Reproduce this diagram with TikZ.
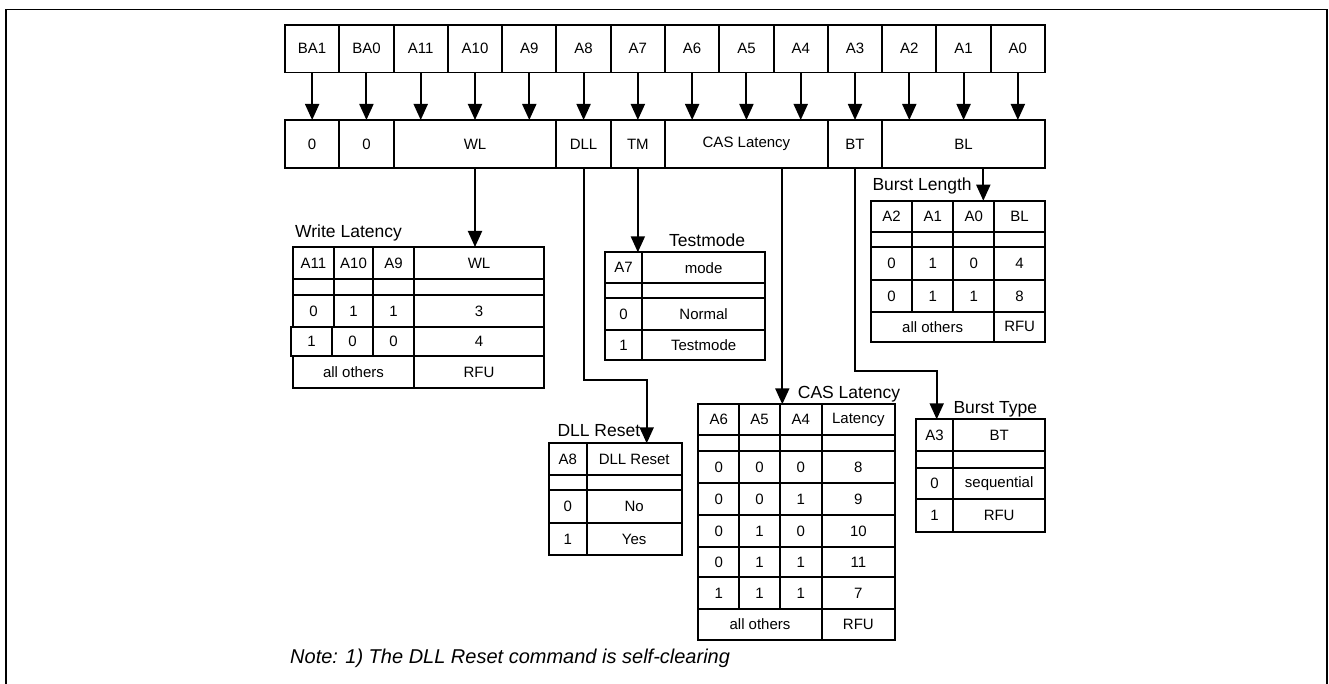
\documentclass[tikz,border=0pt]{standalone}
\usepackage{fontspec}
\setmainfont{Liberation Sans}
\usetikzlibrary{arrows.meta,calc}
\tikzset{
  ln/.style={line width=1.9pt},
  cellst/.style={draw, ln, inner sep=0pt, outer sep=0pt, anchor=north west, font=\fontsize{15}{18}\selectfont},
  ttl/.style={anchor=base west, inner sep=0pt, font=\fontsize{17.5}{20}\selectfont},
  arr/.style={ln, -{Triangle[length=16pt,width=14pt]}},
  notest/.style={anchor=base west, inner sep=0pt, font=\itshape\fontsize{20}{24}\selectfont}
}
\newcommand{\cellbox}[6]{%
  \pgfmathsetmacro\cw{#4-(#2)}\pgfmathsetmacro\ch{#5-(#3)}%
  \node[cellst, minimum width=\cw pt, minimum height=\ch pt] (#1) at (#2,#3) {#6};}
\begin{document}
\begin{tikzpicture}[x=1pt,y=-1pt]
\useasboundingbox (0,0) rectangle (1329,684);
% frame
\draw[line width=1.6pt] (6,684) -- (6,9.5) -- (1327,9.5) -- (1327,684);
% top row
\foreach \lab [count=\i from 0] in {BA1,BA0,A11,A10,A9,A8,A7,A6,A5,A4,A3,A2,A1,A0}{
  \pgfmathsetmacro\xa{285+\i*54.2857}
  \pgfmathsetmacro\xb{285+(\i+1)*54.2857}
  \cellbox{t\i}{\xa}{25}{\xb}{72.5}{\lab}
}
% second row
\cellbox{z1}{285}{120}{339.29}{168}{0}
\cellbox{z2}{339.29}{120}{393.57}{168}{0}
\cellbox{wl}{393.57}{120}{556.43}{168}{WL}
\cellbox{dll}{556.43}{120}{610.71}{168}{DLL}
\cellbox{tm}{610.71}{120}{665}{168}{TM}
\cellbox{cas}{665}{120}{827.86}{168}{CAS Latency}
\cellbox{bt}{827.86}{120}{882.14}{168}{BT}
\cellbox{bl}{882.14}{120}{1045}{168}{BL}
\foreach \i in {0,...,13}{
  \draw[arr] (t\i.south) -- (t\i.south |- z1.north);
}
% Write Latency
\node[ttl] (wlttl) at (295,238) {Write Latency};
\cellbox{w11}{293}{247}{334}{279}{A11}
\cellbox{w12}{334}{247}{373}{279}{A10}
\cellbox{w13}{373}{247}{414}{279}{A9}
\cellbox{w14}{414}{247}{544}{279}{WL}
\cellbox{w21}{293}{279}{334}{295}{}
\cellbox{w22}{334}{279}{373}{295}{}
\cellbox{w23}{373}{279}{414}{295}{}
\cellbox{w24}{414}{279}{544}{295}{}
\cellbox{w31}{293}{295}{334}{327}{0}
\cellbox{w32}{334}{295}{373}{327}{1}
\cellbox{w33}{373}{295}{414}{327}{1}
\cellbox{w34}{414}{295}{544}{327}{3}
\cellbox{w41}{291}{327}{332}{356}{1}
\cellbox{w42}{332}{327}{373}{356}{0}
\cellbox{w43}{373}{327}{414}{356}{0}
\cellbox{w44}{414}{327}{544}{356}{4}
\cellbox{w51}{293}{356}{414}{388}{all others}
\cellbox{w52}{414}{356}{544}{388}{RFU}
% Testmode
\node[ttl] (tmttl) at (669,246.7) {Testmode};
\cellbox{m11}{605}{252.3}{642.3}{283.3}{A7}
\cellbox{m12}{642.3}{252.3}{765}{283.3}{mode}
\cellbox{m21}{605}{283.3}{642.3}{298.3}{}
\cellbox{m22}{642.3}{283.3}{765}{298.3}{}
\cellbox{m31}{605}{298.3}{642.3}{330}{0}
\cellbox{m32}{642.3}{298.3}{765}{330}{Normal}
\cellbox{m41}{605}{330}{642.3}{360}{1}
\cellbox{m42}{642.3}{330}{765}{360}{Testmode}
% DLL Reset
\node[ttl] (dllttl) at (557.3,436.7) {DLL Reset};
\cellbox{d11}{549}{443.3}{586.7}{475}{A8}
\cellbox{d12}{586.7}{443.3}{681.7}{475}{DLL Reset}
\cellbox{d21}{549}{475}{586.7}{490}{}
\cellbox{d22}{586.7}{475}{681.7}{490}{}
\cellbox{d31}{549}{490}{586.7}{523.3}{0}
\cellbox{d32}{586.7}{490}{681.7}{523.3}{No}
\cellbox{d41}{549}{523.3}{586.7}{555}{1}
\cellbox{d42}{586.7}{523.3}{681.7}{555}{Yes}
% CAS Latency
\node[ttl] (casttl) at (797.7,398.3) {CAS Latency};
\cellbox{c11}{698.3}{404.3}{739.3}{435}{A6}
\cellbox{c12}{739.3}{404.3}{780}{435}{A5}
\cellbox{c13}{780}{404.3}{821.7}{435}{A4}
\cellbox{c14}{821.7}{404.3}{895}{435}{Latency}
\cellbox{c21}{698.3}{435}{739.3}{451}{}
\cellbox{c22}{739.3}{435}{780}{451}{}
\cellbox{c23}{780}{435}{821.7}{451}{}
\cellbox{c24}{821.7}{435}{895}{451}{}
\cellbox{c31}{698.3}{451}{739.3}{483.3}{0}
\cellbox{c32}{739.3}{451}{780}{483.3}{0}
\cellbox{c33}{780}{451}{821.7}{483.3}{0}
\cellbox{c34}{821.7}{451}{895}{483.3}{8}
\cellbox{c41}{698.3}{483.3}{739.3}{515}{0}
\cellbox{c42}{739.3}{483.3}{780}{515}{0}
\cellbox{c43}{780}{483.3}{821.7}{515}{1}
\cellbox{c44}{821.7}{483.3}{895}{515}{9}
\cellbox{c51}{698.3}{515}{739.3}{546.7}{0}
\cellbox{c52}{739.3}{515}{780}{546.7}{1}
\cellbox{c53}{780}{515}{821.7}{546.7}{0}
\cellbox{c54}{821.7}{515}{895}{546.7}{10}
\cellbox{c61}{698.3}{546.7}{739.3}{577.3}{0}
\cellbox{c62}{739.3}{546.7}{780}{577.3}{1}
\cellbox{c63}{780}{546.7}{821.7}{577.3}{1}
\cellbox{c64}{821.7}{546.7}{895}{577.3}{11}
\cellbox{c71}{698.3}{577.3}{739.3}{609}{1}
\cellbox{c72}{739.3}{577.3}{780}{609}{1}
\cellbox{c73}{780}{577.3}{821.7}{609}{1}
\cellbox{c74}{821.7}{577.3}{895}{609}{7}
\cellbox{c81}{698.3}{609}{821.7}{640}{all others}
\cellbox{c82}{821.7}{609}{895}{640}{RFU}
% Burst Length
\node[ttl] (blttl) at (872.3,190.7) {Burst Length};
\cellbox{b11}{871}{200.7}{912.3}{231.7}{A2}
\cellbox{b12}{912.3}{200.7}{953.3}{231.7}{A1}
\cellbox{b13}{953.3}{200.7}{994.3}{231.7}{A0}
\cellbox{b14}{994.3}{200.7}{1045}{231.7}{BL}
\cellbox{b21}{871}{231.7}{912.3}{247.3}{}
\cellbox{b22}{912.3}{231.7}{953.3}{247.3}{}
\cellbox{b23}{953.3}{231.7}{994.3}{247.3}{}
\cellbox{b24}{994.3}{231.7}{1045}{247.3}{}
\cellbox{b31}{871}{247.3}{912.3}{280}{0}
\cellbox{b32}{912.3}{247.3}{953.3}{280}{1}
\cellbox{b33}{953.3}{247.3}{994.3}{280}{0}
\cellbox{b34}{994.3}{247.3}{1045}{280}{4}
\cellbox{b41}{871}{280}{912.3}{311.7}{0}
\cellbox{b42}{912.3}{280}{953.3}{311.7}{1}
\cellbox{b43}{953.3}{280}{994.3}{311.7}{1}
\cellbox{b44}{994.3}{280}{1045}{311.7}{8}
\cellbox{b51}{871}{311.7}{994.3}{341.7}{all others}
\cellbox{b52}{994.3}{311.7}{1045}{341.7}{RFU}
% Burst Type
\node[ttl] (btttl) at (953.3,413.3) {Burst Type};
\cellbox{y11}{915.7}{419.3}{953.3}{450.7}{A3}
\cellbox{y12}{953.3}{419.3}{1045}{450.7}{BT}
\cellbox{y21}{915.7}{450.7}{953.3}{467.7}{}
\cellbox{y22}{953.3}{450.7}{1045}{467.7}{}
\cellbox{y31}{915.7}{467.7}{953.3}{499.3}{0}
\cellbox{y32}{953.3}{467.7}{1045}{499.3}{sequential}
\cellbox{y41}{915.7}{499.3}{953.3}{531.7}{1}
\cellbox{y42}{953.3}{499.3}{1045}{531.7}{RFU}
% connectors from second row
\draw[arr] (wl.south) -- (wl.south |- w14.north);
\draw[arr] (tm.south) -- (tm.south |- m11.north);
\coordinate (dllk) at (646.7,380);
\draw[arr] (dll.south) |- (dllk) -- (dllk |- d12.north);
\coordinate (caso) at (782.3,168);
\draw[arr] (caso) -- (caso |- c13.north);
\coordinate (blo) at (983.3,168);
\draw[arr] (blo) -- (blo |- b13.north);
\coordinate (btk) at (936.7,371);
\draw[arr] (bt.south) |- (btk) -- (btk |- y11.north);
% note
\node[notest] (note) at (290,663) {Note: 1) The DLL Reset command is self-clearing};
\end{tikzpicture}
\end{document}
